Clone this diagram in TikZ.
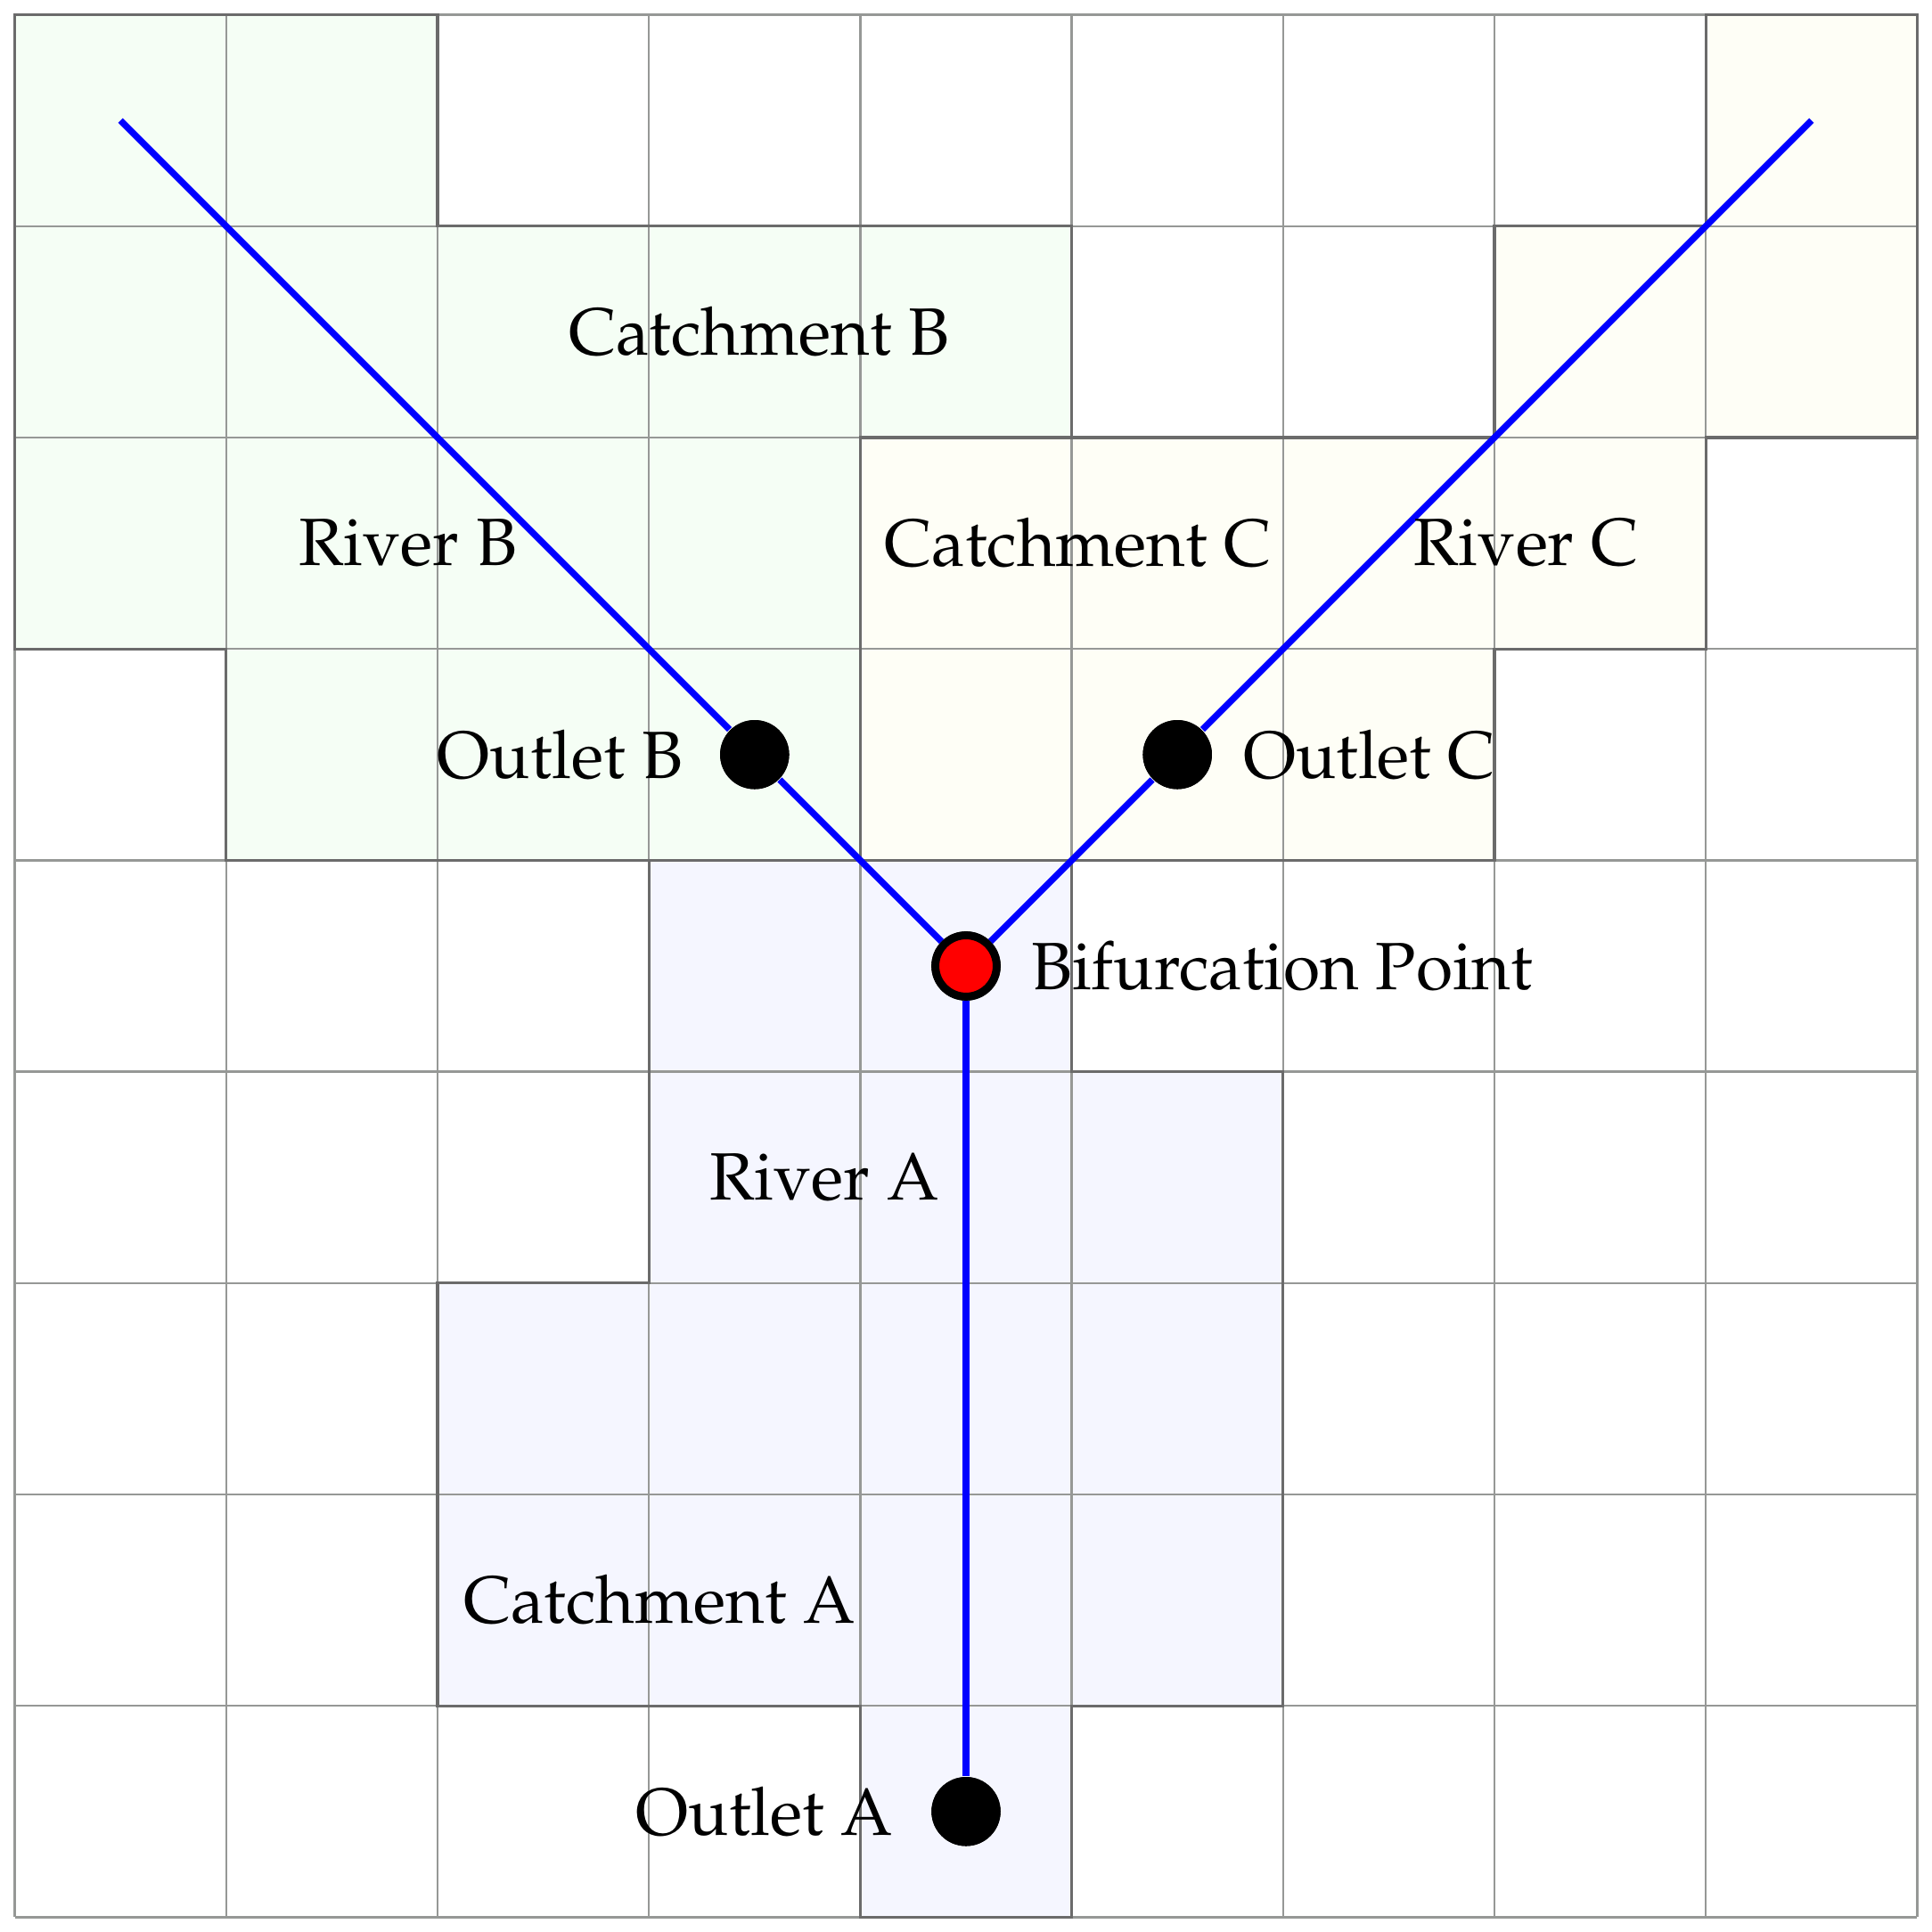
\documentclass[tikz,border=0pt]{standalone}
\usepackage[T1]{fontenc}
\usepackage{mathpazo}
\usepackage{xcolor}
\usepackage{tikz}
\usetikzlibrary{positioning,calc}
\definecolor{catchA}{RGB}{245,246,255}
\definecolor{catchB}{RGB}{245,254,245}
\definecolor{catchC}{RGB}{254,254,246}
\definecolor{cellgray}{RGB}{150,152,150}
\tikzstyle{cell} = [draw=cellgray,line width=0.42pt]
\tikzstyle{area} = [draw=black!58,line width=0.6pt]
\tikzstyle{river} = [draw=blue,line width=1.3pt]
\tikzstyle{outlet} = [circle,fill=black,minimum size=0.49cm,inner sep=0pt]
\tikzstyle{split} = [circle,fill=red,draw=black,line width=1.6pt,minimum size=0.435cm,inner sep=0pt]
\tikzstyle{lbl} = [inner sep=0pt,font=\fontsize{13.5}{16}\selectfont]

\begin{document}
\begin{tikzpicture}[x=1.5cm,y=1.5cm]
        \useasboundingbox (-0.07,-0.07) rectangle (9.07,9.07);
        \fill[catchB] (0,9) -- (2,9) -- (2,8) -- (5,8) -- (5,7) -- (4,7) -- (4,5) -- (1,5) -- (1,6) -- (0,6) -- cycle;
        \fill[catchC] (4,7) -- (7,7) -- (7,8) -- (8,8) -- (8,9) -- (9,9) -- (9,7) -- (8,7) -- (8,6) -- (7,6) -- (7,5) -- (4,5) -- cycle;
        \fill[catchA] (3,5) -- (5,5) -- (5,4) -- (6,4) -- (6,1) -- (5,1) -- (5,0) -- (4,0) -- (4,1) -- (2,1) -- (2,3) -- (3,3) -- cycle;
        \draw[cell,step=1.5cm] (0,0) grid (9,9);
        \draw[area] (0,9) -- (2,9) -- (2,8) -- (5,8) -- (5,7) -- (4,7) -- (4,5) -- (1,5) -- (1,6) -- (0,6) -- cycle;
        \draw[area] (4,7) -- (7,7) -- (7,8) -- (8,8) -- (8,9) -- (9,9) -- (9,7) -- (8,7) -- (8,6) -- (7,6) -- (7,5) -- (4,5) -- cycle;
        \draw[area] (3,5) -- (5,5) -- (5,4) -- (6,4) -- (6,1) -- (5,1) -- (5,0) -- (4,0) -- (4,1) -- (2,1) -- (2,3) -- (3,3) -- cycle;

        \coordinate (srcB) at (0.5,8.5);
        \coordinate (srcC) at (8.5,8.5);
        \path node[split] (bif) at (4.5,4.5) {};
        \path node[outlet] (oA) at (4.5,0.5) {};
        \path node[outlet] (oB) at (3.5,5.5) {};
        \path node[outlet] (oC) at (5.5,5.5) {};
        \draw[river] (oA) -- (bif);
        \draw[river] (bif) -- (oB) -- (srcB);
        \draw[river] (bif) -- (oC) -- (srcC);
        \path node[outlet] at (oA) {} node[outlet] at (oB) {} node[outlet] at (oC) {};
        \path node[split] at (bif) {};

        \node[lbl,right=0.21cm of bif] (lbif) {Bifurcation Point};
        \node[lbl,left=0.26cm of oA] (loA) {Outlet A};
        \node[lbl,left=0.25cm of oB] (loB) {Outlet B};
        \node[lbl,right=0.21cm of oC] (loC) {Outlet C};
        \node[lbl] (rA) at (3.83,3.5) {River A};
        \node[lbl] (rB) at (1.86,6.5) {River B};
        \node[lbl] (rC) at (7.15,6.5) {River C};
        \node[lbl] (cA) at (3.05,1.5) {Catchment A};
        \node[lbl] (cB) at (3.52,7.5) {Catchment B};
        \node[lbl] (cC) at (5.03,6.5) {Catchment C};
    \end{tikzpicture}
\end{document}
